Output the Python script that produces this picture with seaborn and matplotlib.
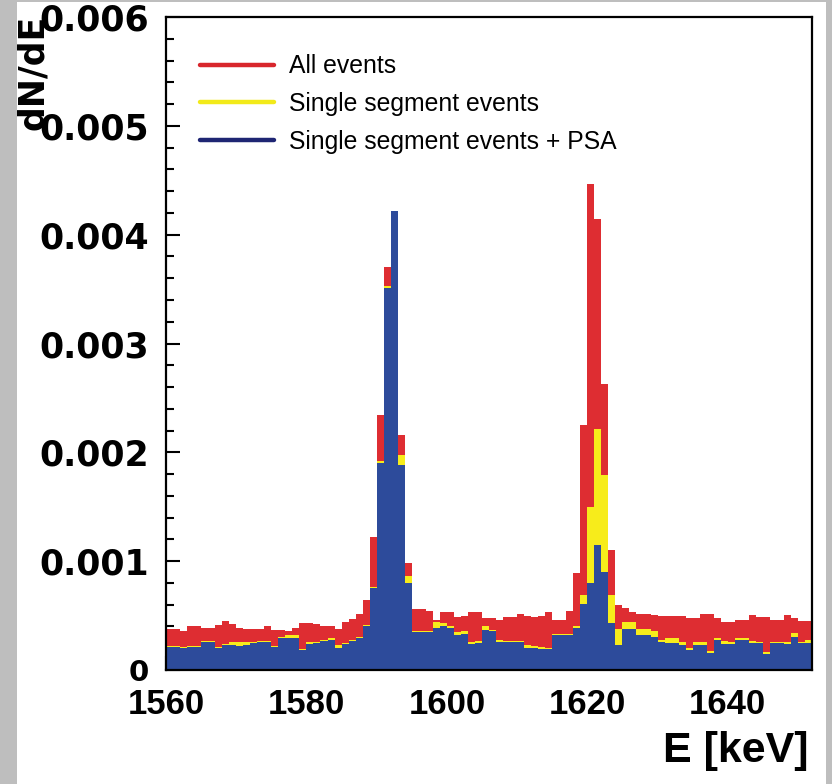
import numpy as np
import pandas as pd
import matplotlib
matplotlib.use("Agg")
import matplotlib.pyplot as plt
import seaborn as sns
from matplotlib.lines import Line2D
from matplotlib.patches import Rectangle
from matplotlib.ticker import MultipleLocator, FuncFormatter

# Espectros normalizados dN/dE, bines de 1 keV desde 1560 keV (valores en 1e-4)
e_min, e_max = 1560, 1652
escala = 1e-4

todos = [3.8, 3.8, 3.6, 4.0, 4.0, 3.9, 3.9, 4.1, 4.5, 4.2,
         3.9, 3.8, 3.8, 3.8, 4.0, 3.7, 3.7, 3.6, 3.9, 4.3,
         4.3, 4.2, 4.0, 4.0, 3.8, 4.4, 4.7, 5.1, 6.4, 12.2,
         23.4, 37.0, 41.0, 21.6, 9.8, 5.6, 5.6, 5.4, 4.6, 5.3,
         5.3, 4.9, 5.0, 5.3, 5.3, 4.8, 4.8, 4.6, 4.9, 4.9,
         5.1, 5.0, 4.9, 5.0, 5.3, 4.6, 4.6, 5.4, 8.9, 22.5,
         44.7, 41.4, 26.3, 11.0, 6.0, 5.7, 5.3, 5.1, 5.1, 5.05,
         5.0, 5.0, 5.0, 5.0, 4.75, 4.75, 5.15, 5.15, 4.75, 4.45,
         4.45, 4.6, 4.6, 5.05, 4.9, 4.9, 4.6, 4.6, 5.05, 4.8,
         4.5, 4.5]

un_segmento = [2.2, 2.2, 2.1, 2.2, 2.2, 2.7, 2.7, 2.1, 2.4, 2.6,
               2.6, 2.6, 2.6, 2.7, 2.7, 2.2, 3.0, 3.2, 3.2, 1.95,
               2.6, 2.6, 2.8, 2.9, 2.3, 2.5, 2.8, 3.0, 4.1, 7.6,
               19.2, 35.3, 41.5, 19.8, 8.6, 3.6, 3.6, 3.6, 4.4, 4.3,
               4.0, 3.5, 3.6, 2.6, 2.7, 4.0, 3.7, 2.8, 2.7, 2.7,
               2.7, 2.3, 2.2, 2.1, 2.0, 3.3, 3.3, 3.3, 4.0, 6.9,
               15.0, 22.1, 17.9, 6.9, 3.8, 4.4, 4.4, 3.8, 3.8, 3.6,
               2.75, 2.9, 2.9, 2.6, 2.0, 2.55, 2.55, 1.75, 2.9, 2.7,
               2.55, 2.9, 2.9, 2.7, 2.6, 1.65, 2.6, 2.6, 2.55, 3.4,
               2.6, 2.8]

un_segmento_psa = [2.1, 2.1, 2.0, 2.1, 2.1, 2.6, 2.6, 2.0, 2.3, 2.3,
                   2.2, 2.3, 2.5, 2.6, 2.6, 2.1, 2.9, 2.9, 2.9, 1.8,
                   2.4, 2.5, 2.7, 2.8, 2.0, 2.4, 2.7, 2.9, 4.0, 7.5,
                   19.0, 35.1, 42.2, 18.8, 8.0, 3.5, 3.5, 3.5, 3.9, 4.0,
                   3.9, 3.2, 3.3, 2.4, 2.5, 3.7, 3.6, 2.6, 2.6, 2.6,
                   2.6, 2.0, 2.0, 1.9, 1.9, 3.2, 3.2, 3.2, 3.85, 6.1,
                   8.0, 11.5, 9.0, 4.3, 2.3, 3.8, 3.8, 3.2, 3.2, 3.0,
                   2.6, 2.45, 2.45, 2.3, 1.8, 2.3, 2.3, 1.6, 2.75, 2.4,
                   2.4, 2.75, 2.75, 2.5, 2.45, 1.5, 2.45, 2.5, 2.4, 3.05,
                   2.5, 2.5]

etiquetas = ["All events", "Single segment events", "Single segment events + PSA"]
colores = ["#DE2D32", "#F7EC1B", "#2D4B9B"]
colores_leyenda = ["#D8262C", "#F2EA1A", "#1E2573"]

centros = np.arange(e_min, e_max) + 0.5
df = pd.DataFrame({
    "E": centros,
    etiquetas[0]: np.array(todos) * escala,
    etiquetas[1]: np.array(un_segmento) * escala,
    etiquetas[2]: np.array(un_segmento_psa) * escala,
})

sns.set_style("ticks")
plt.rcParams["font.family"] = ["Liberation Sans", "DejaVu Sans"]
plt.rcParams["text.color"] = "black"
plt.rcParams["axes.labelcolor"] = "black"
plt.rcParams["xtick.color"] = "black"
plt.rcParams["ytick.color"] = "black"

fig = plt.figure(figsize=(8.32, 7.84), dpi=100)
fig.patch.set_facecolor("#BEBEBE")
# marco blanco dentro del borde gris
fig.add_artist(Rectangle((17 / 832, 0), (826 - 17) / 832, (784 - 2) / 784,
                         transform=fig.transFigure, facecolor="white",
                         edgecolor="none", zorder=0))

ax = fig.add_axes([166 / 832, (784 - 670) / 784, 646 / 832, 653 / 784])
ax.set_facecolor("white")

# Histogramas superpuestos (rojo debajo, azul encima)
for col, c in zip(etiquetas, colores):
    sns.histplot(data=df, x="E", weights=col, binwidth=1, binrange=(e_min, e_max),
                 element="step", fill=True, color=c, alpha=1, linewidth=0, ax=ax)

ax.set_xlim(e_min, e_max)
ax.set_ylim(0, 0.006)

ax.xaxis.set_major_locator(MultipleLocator(20))
ax.yaxis.set_major_locator(MultipleLocator(0.001))
ax.yaxis.set_minor_locator(MultipleLocator(0.0002))
ax.yaxis.set_major_formatter(FuncFormatter(lambda v, p: "0" if abs(v) < 1e-9 else f"{v:.3f}"))

ax.tick_params(axis="both", which="both", direction="in", top=False, right=False, width=1.5)
ax.tick_params(axis="y", which="major", length=10, pad=12)
ax.tick_params(axis="y", which="minor", length=6)
ax.tick_params(axis="x", which="major", length=10, pad=13)

for s in ax.spines.values():
    s.set_linewidth(1.6)
    s.set_color("black")
    s.set_zorder(5)

ax.set_ylabel("dN/dE", loc="top", fontsize=25, fontweight="bold", family="DejaVu Sans")
ax.yaxis.set_label_coords(-0.18, 1.003)
ax.set_xlabel("E [keV]", loc="right", fontsize=31, fontweight="bold", family="Liberation Sans")
ax.xaxis.set_label_coords(0.994, -0.093)

handles = [Line2D([0], [0], color=c, lw=3.2) for c in colores_leyenda]
ax.legend(handles, etiquetas, loc="upper left", bbox_to_anchor=(0.052, 0.943),
          frameon=False, fontsize=17.8, handlelength=3.0, handletextpad=0.6,
          labelspacing=0.56, borderpad=0, borderaxespad=0)

fig.canvas.draw()
for t in ax.yaxis.get_major_ticks():
    t.label1.set_fontfamily("DejaVu Sans")
    t.label1.set_fontweight("bold")
    t.label1.set_fontsize(25)
    if t.label1.get_text() == "0":
        t.label1.set_fontsize(21)
for t in ax.xaxis.get_major_ticks():
    t.label1.set_fontfamily("Liberation Sans")
    t.label1.set_fontweight("bold")
    t.label1.set_fontsize(25)

fig.savefig("out.png", dpi=100, facecolor=fig.get_facecolor())
